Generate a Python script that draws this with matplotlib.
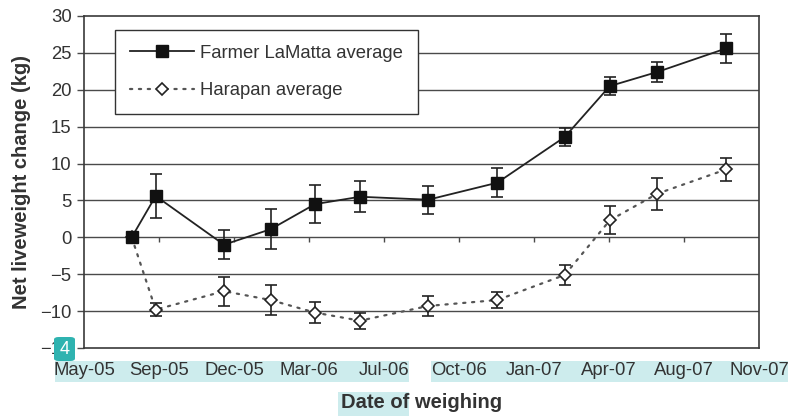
import numpy as np
import matplotlib.pyplot as plt
from matplotlib.patches import Rectangle, FancyBboxPatch

plt.rcParams['font.family'] = ['Liberation Sans', 'DejaVu Sans']

# tick labels on the date axis (evenly spaced)
date_labels = ['May-05', 'Sep-05', 'Dec-05', 'Mar-06', 'Jul-06',
               'Oct-06', 'Jan-07', 'Apr-07', 'Aug-07', 'Nov-07']

# weighing positions, in units of date-tick intervals from May-05
weigh_pos = [0.636, 0.956, 1.867, 2.489, 3.08, 3.68, 4.59, 5.51, 6.41, 7.01, 7.64, 8.56]

# Farmer LaMatta average and error
farmer_avg = [0.0, 5.6, -1.0, 1.1, 4.5, 5.5, 5.1, 7.4, 13.6, 20.5, 22.4, 25.6]
farmer_err = [0.0, 3.0, 2.0, 2.7, 2.6, 2.1, 1.9, 2.0, 1.2, 1.2, 1.3, 2.0]

# Harapan average and error
harapan_avg = [0.0, -9.8, -7.3, -8.5, -10.2, -11.3, -9.3, -8.5, -5.1, 2.3, 5.9, 9.2]
harapan_err = [0.0, 0.9, 1.95, 2.0, 1.4, 1.1, 1.35, 1.05, 1.4, 1.9, 2.2, 1.6]

W, H = 788, 416
fig = plt.figure(figsize=(W / 100, H / 100), dpi=100)
ax = fig.add_axes([84 / W, 1 - 348 / H, (759 - 84) / W, (348 - 16) / H])

grid_col = '#4a4a4a'
for y in range(-10, 30, 5):
    ax.axhline(y, color=grid_col, lw=1.0, zorder=1)

# tick marks hanging from the zero line
ax.vlines(range(1, len(date_labels) - 1), -0.7, 0, color=grid_col, lw=1.0, zorder=1)

# error bars
ax.errorbar(weigh_pos, harapan_avg, yerr=harapan_err, fmt='none', ecolor='#222222',
            elinewidth=1.2, capsize=4.5, capthick=1.2, zorder=2)
ax.errorbar(weigh_pos, farmer_avg, yerr=farmer_err, fmt='none', ecolor='#222222',
            elinewidth=1.2, capsize=4.5, capthick=1.2, zorder=2)

ax.plot(weigh_pos, harapan_avg, color='#555555', lw=1.6, ls=(0, (1, 3)),
        dash_capstyle='round', marker='D', ms=6.5, mfc='white', mec='#222222',
        mew=1.2, label='Harapan average', zorder=3)
ax.plot(weigh_pos, farmer_avg, color='#222222', lw=1.3, marker='s', ms=8.5,
        mfc='#111111', mec='#111111', label='Farmer LaMatta average', zorder=4)

ax.set_xlim(0, len(date_labels) - 1)
ax.set_ylim(-15, 30)
ax.set_yticks(range(-15, 31, 5))
ax.set_xticks(range(len(date_labels)))
ax.set_xticklabels(date_labels)
ax.tick_params(axis='x', length=0, pad=10, labelsize=13.3, labelcolor='#333333')
ax.tick_params(axis='y', length=5, width=1, color=grid_col, pad=4,
               labelsize=13.3, labelcolor='#333333')
for s in ax.spines.values():
    s.set_color('#3a3a3a')
    s.set_linewidth(1.2)

ax.set_ylabel('Net liveweight change (kg)', fontsize=14.5, fontweight='bold',
              color='#333333', ha='center', va='center')
ax.yaxis.set_label_coords(-0.092, 0.5)
ax.set_xlabel('Date of weighing', fontsize=14.5, fontweight='bold', color='#333333')
ax.xaxis.set_label_coords(0.5, -0.135)

handles, labels = ax.get_legend_handles_labels()
leg = ax.legend(handles[::-1], labels[::-1], loc='upper left',
                bbox_to_anchor=(31 / 675, 318 / 332), borderaxespad=0,
                fontsize=13.3, fancybox=False, framealpha=1, edgecolor='#333333',
                handlelength=3.5, handletextpad=0.3, labelspacing=1.1,
                borderpad=0.8)
leg.get_frame().set_linewidth(1.0)
for t in leg.get_texts():
    t.set_color('#333333')
leg.set_zorder(10)


def px_rect(x0, y0, x1, y1):
    return (x0 / W, 1 - y1 / H), (x1 - x0) / W, (y1 - y0) / H


# selection highlights behind the axis text
hl = '#cdeced'
for box in [(55, 361, 409, 382), (431, 361, 788, 382), (338, 392, 409, 416)]:
    xy, w, h = px_rect(*box)
    fig.add_artist(Rectangle(xy, w, h, transform=fig.transFigure,
                             facecolor=hl, edgecolor='none', zorder=-1))

# page-marker badge
xy, w, h = px_rect(54, 337, 75, 361)
fig.add_artist(FancyBboxPatch(xy, w, h, boxstyle='round,pad=0,rounding_size=0.006',
                              transform=fig.transFigure, facecolor='#2fb3b0',
                              edgecolor='none', zorder=20))
fig.text(64.5 / W, 1 - 350 / H, '4', color='white', fontsize=13, ha='center',
         va='center', zorder=21)

fig.savefig('out.png', dpi=100)
